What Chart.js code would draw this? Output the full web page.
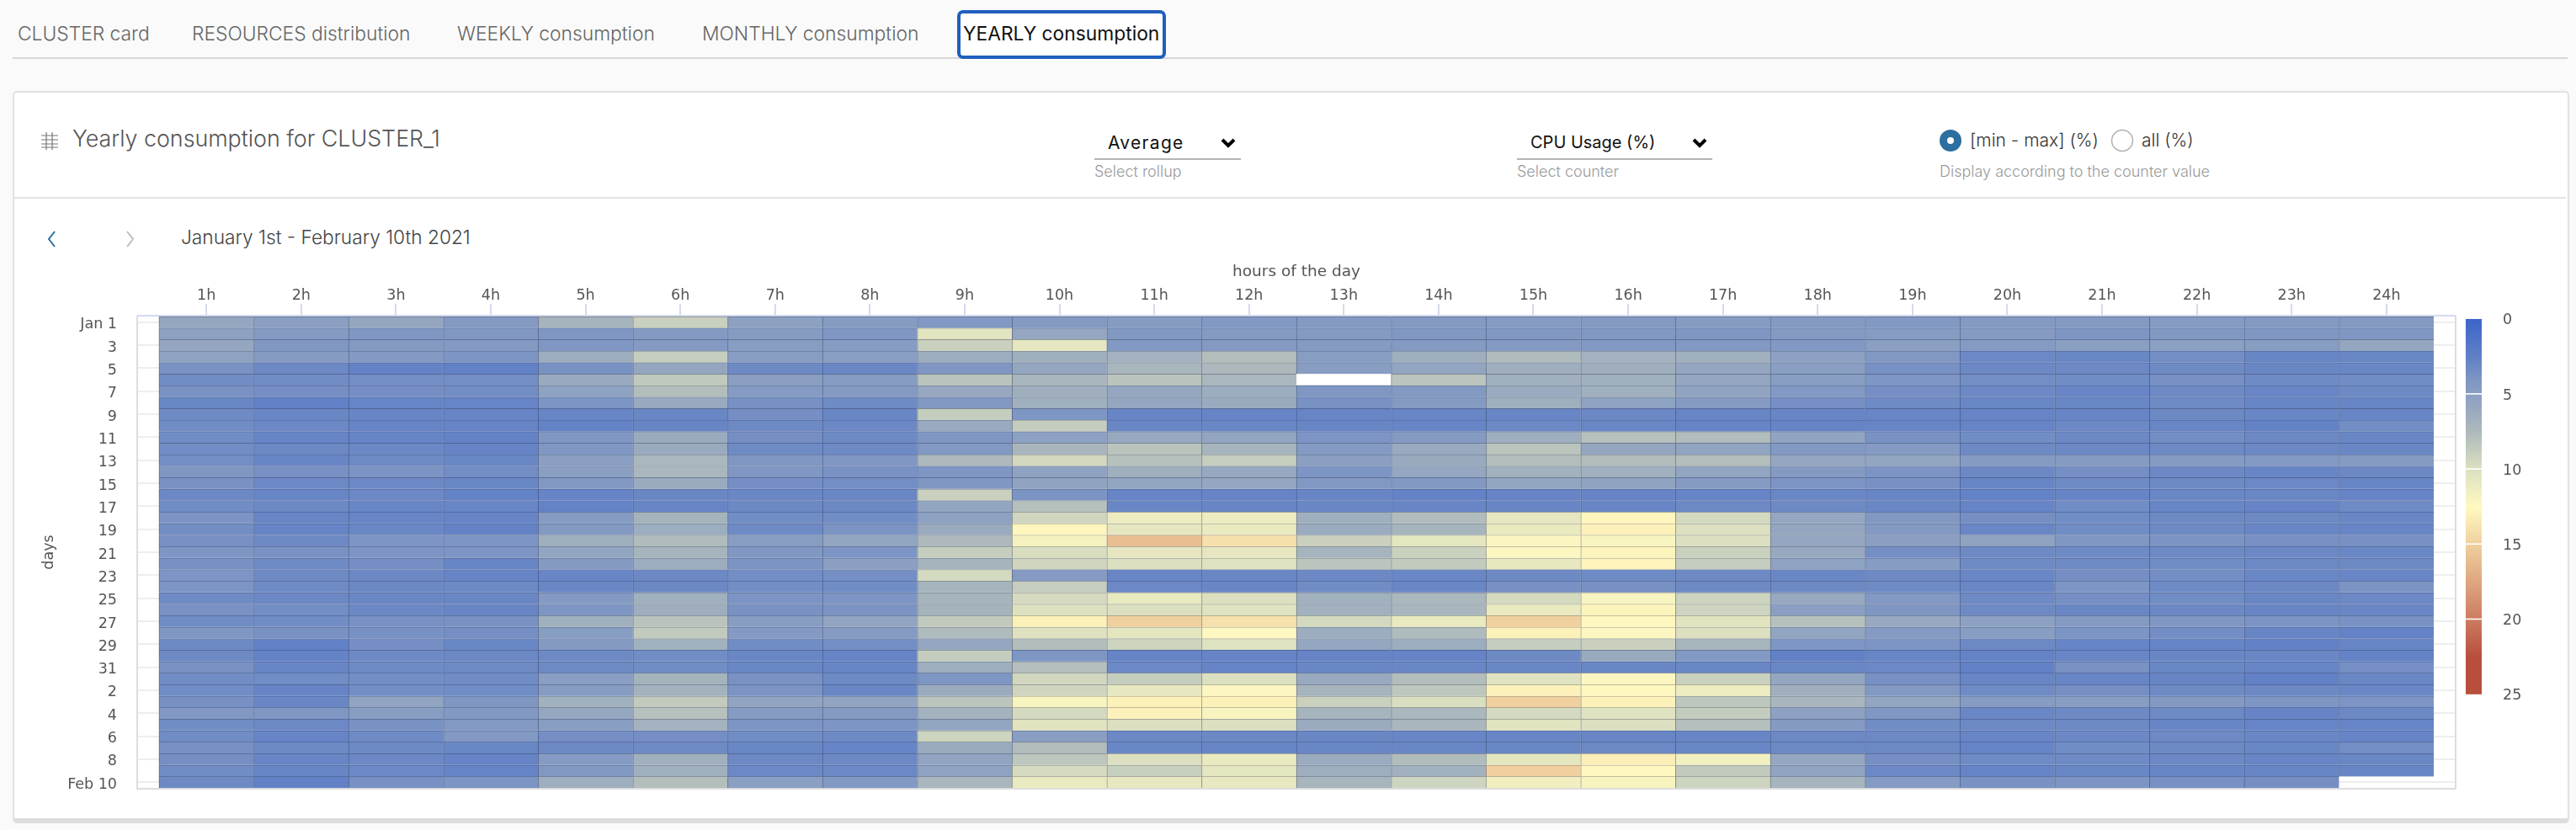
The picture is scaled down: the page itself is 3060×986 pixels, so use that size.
<!DOCTYPE html>
<html><head><meta charset="utf-8">
<style>
html,body{margin:0;padding:0;background:#fafafa;width:3060px;height:986px;overflow:hidden;font-family:Inter,sans-serif}
.t{position:absolute;white-space:nowrap;line-height:1}
#tabline{position:absolute;left:15px;top:68px;width:3035px;height:2px;background:#d6d6d6}
#active{position:absolute;left:1137px;top:12px;width:240px;height:50px;border:4px solid #1f5fbf;border-radius:7px;background:#fff}
#panel{position:absolute;left:15px;top:108px;width:3033px;height:862px;background:#fff;border:2px solid #e2e2e2;border-bottom:6px solid #ddd;border-radius:5px}
#sep{position:absolute;left:17px;top:234px;width:3031px;height:2px;background:#e2e2e2}
canvas{position:absolute;left:0;top:0}
.u{position:absolute;height:2px;background:#b4b4b4;top:188px}
.h{font-size:18px;color:#999;top:195px;font-weight:300}
.s{font-size:20px;color:#111;top:159px}
.tab{top:29px;font-size:22.8px;font-weight:300;color:#666}
svg{position:absolute}
</style></head><body>
<div id="tabline"></div><div id="active"></div>
<div class="t tab" style="left:21px">CLUSTER card</div>
<div class="t tab" style="left:228px">RESOURCES distribution</div>
<div class="t tab" style="left:543px">WEEKLY consumption</div>
<div class="t tab" style="left:834px">MONTHLY consumption</div>
<div class="t tab" style="left:1144px;font-weight:400;color:#111">YEARLY consumption</div>
<div id="panel"></div><div id="sep"></div>
<svg style="left:47px;top:155px" width="24" height="24" viewBox="0 0 24 24" stroke="#777" stroke-width="1.2" fill="none"><path d="M8 2V23M15 2V23M2 6H22M2 11H22M2 16H22M2 20H22"/></svg>
<div class="t" style="left:86px;top:151px;font-size:26.8px;font-weight:300;color:#555">Yearly consumption for CLUSTER_1</div>
<div class="t s" style="left:1316px;font-size:21px;letter-spacing:1.3px">Average</div>
<svg style="left:1449px;top:163px" width="20" height="14" stroke="#000" stroke-width="4" fill="none"><path d="M3 3L10 10L17 3"/></svg>
<div class="u" style="left:1300px;width:174px"></div>
<div class="t h" style="left:1300px">Select rollup</div>
<div class="t s" style="left:1818px">CPU Usage (%)</div>
<svg style="left:2009px;top:163px" width="20" height="14" stroke="#000" stroke-width="4" fill="none"><path d="M3 3L10 10L17 3"/></svg>
<div class="u" style="left:1802px;width:232px"></div>
<div class="t h" style="left:1802px">Select counter</div>
<svg style="left:2303px;top:153px" width="28" height="28"><circle cx="14" cy="14" r="13" fill="#2d6f9f"/><circle cx="14" cy="14" r="4" fill="#fff"/></svg>
<div class="t" style="left:2340px;top:156px;font-size:21px;font-weight:300;color:#333">[min - max] (%)</div>
<svg style="left:2507px;top:153px" width="28" height="28"><circle cx="14" cy="14" r="12.5" fill="#fff" stroke="#b0b0b0" stroke-width="1.5"/></svg>
<div class="t" style="left:2544px;top:156px;font-size:21px;font-weight:300;color:#333">all (%)</div>
<div class="t h" style="left:2304px">Display according to the counter value</div>
<svg style="left:54px;top:272px" width="16" height="24" stroke="#2d6f9f" stroke-width="2" fill="none"><path d="M11 3L4 12L11 21"/></svg>
<svg style="left:146px;top:272px" width="16" height="24" stroke="#bbb" stroke-width="2" fill="none"><path d="M5 3L12 12L5 21"/></svg>
<div class="t" style="left:215px;top:271px;font-size:22.7px;font-weight:300;color:#444">January 1st - February 10th 2021</div>
<canvas id="c" width="3060" height="986"></canvas>
<script src="https://cdn.jsdelivr.net/npm/chart.js@4"></script>
<script>
const hours=["1h","2h","3h","4h","5h","6h","7h","8h","9h","10h","11h","12h","13h","14h","15h","16h","17h","18h","19h","20h","21h","22h","23h","24h"];
const dayLabels=["Jan 1","3","5","7","9","11","13","15","17","19","21","23","25","27","29","31","2","4","6","8","Feb 10"];
const legendTicks=[0,5,10,15,20,25];
const cpu=[
[5.7,5,5.8,4.5,7,9,5.2,4.7,4.4,4.5,4.7,4.4,4.5,4.5,4.6,4.5,4.7,4.5,4.4,4.5,4.5,4.6,4.5,4.5],
[5.2,4.6,4.2,4.3,4.2,4.5,4.7,4.2,10.5,5.7,4.3,4.5,4.5,4.3,4.3,4.3,4.2,4.5,4.7,4.6,4.1,4.3,4.2,4.2],
[5.8,4.3,4.5,4.5,4.2,4.5,4.8,4.7,9,10.7,4.4,4.5,4.6,4.5,4.5,4.4,4.4,4.4,5,4.6,5,5.1,4.8,5.8],
[5.3,4.6,4.5,4,6.3,8.8,4.8,4.9,6.3,6.5,6.8,7.8,4.8,6.5,7.6,6.8,6.6,5.2,4.3,3.1,3,3.5,2.9,3],
[3.8,3.1,2.7,2.6,3.8,5.8,3.2,3,4.2,5.8,7.2,7.4,4.8,5.6,6.5,6.5,5.8,5,3.7,3.1,3.1,3.3,3,3],
[3.4,3.4,3.5,3.5,6,8.5,5,4.7,8.2,7.2,8.2,7.3,null,8.3,6.6,6.6,5.7,4.8,4.1,3.5,3.4,3.7,3.3,3.4],
[3.8,3.6,3.6,3.5,5.3,7.8,4.6,4.5,5.9,6.5,5.7,6.3,4.2,4.4,6.2,6.6,5.5,4.4,3.6,3.1,2.9,3.2,2.9,3.2],
[3,2.6,2.8,2.8,4,6,3.7,3.3,4.3,6.6,5.8,6.2,3.8,4.5,6.5,5.3,4.6,3.6,3.3,3,3,3.3,2.9,2.9],
[3.3,3,2.9,2.9,2.9,3,3.6,3,8.8,4.1,2.9,2.8,2.9,2.9,2.9,3.1,2.9,2.9,2.9,2.8,2.9,3.2,3,2.9],
[3.4,3.1,2.8,2.8,2.7,2.9,3.2,3.1,6,8.8,3,3,2.9,2.9,3.1,3,2.8,2.8,2.9,2.8,3.1,2.9,2.7,3.5],
[3.4,2.8,2.8,2.7,4.2,6.2,3.6,3.2,4.2,5.2,5.9,5.6,4,4.5,6.4,8,7.7,5.5,3.8,3.4,3.1,3.5,3.1,3],
[3.4,3.1,3.1,2.8,4.2,6.2,3.3,3.2,4.4,7.2,8.2,7,4.6,6,8.2,5.7,5.5,4.4,4.6,3.2,3.1,3.2,3.1,3],
[3.5,2.9,3.2,3,5,7.3,4.2,4.2,7.5,9.5,8,8.8,5,6.1,7.8,7.7,7.8,5.7,5.6,4.6,4.6,4.6,4.4,4.6],
[4.2,3.7,3.9,3.5,5,7.3,4.2,3.8,4.1,5.3,6.5,5.9,4,5.7,6.7,6.6,5.6,4.5,3.9,3.1,3.6,3.1,2.9,3.1],
[3.8,3.1,3.1,3,4.3,6.2,3.6,3.5,4.2,5.4,5.6,5.8,4.3,4.4,5.6,5.4,4.6,4,3.7,2.9,3.3,3.2,3.1,2.9],
[3.1,2.9,3.1,2.7,2.8,3,3,3,9,3.9,2.8,2.8,2.9,2.7,2.8,2.8,2.8,3,2.9,2.7,2.8,3,3,2.8],
[3.4,3.1,2.9,2.9,2.7,2.9,3.1,3.1,5.6,8,3,2.9,3,2.9,2.9,2.9,3.1,3.2,3,2.8,3.4,2.9,2.8,3.3],
[4,2.9,2.9,2.8,4.6,6.9,3.4,3.4,5.2,9.3,11.2,11.2,6.5,7.7,10.7,12.7,9.6,5.8,4.3,3.6,3.4,3.2,3.2,3],
[3.5,2.8,3,2.7,4.4,6.3,3.3,3.9,6.2,12.7,10.7,11,6.2,7,11,13,10,5.8,4.5,3,3.4,3.2,3,2.9],
[3.7,3.2,4,4,6.5,7.6,4.8,5.6,7.5,11.8,16,14,9,10.6,12.2,12.1,10,5.8,5,5.4,4.2,3.9,3.7,3.7],
[4.1,3.8,4,4,5.6,7,4.3,4,8.8,9.8,10.7,10.7,7,9,12.3,12.8,9,5.9,3.6,3.2,3.3,3.2,3.1,3],
[3.7,3.3,3.6,2.9,4.5,6.3,3.9,5,7,9.3,10,10.3,8.3,8.6,10.8,12.8,8.8,5.3,4.7,3.3,3.3,3.4,3.1,3.2],
[4,3.2,3.1,2.8,2.9,3.1,3.5,3.6,9.6,4.6,2.9,3,3.1,3,3.2,3.3,3.2,3,3.2,3,3.6,3.5,3,2.9],
[4,3.3,3.1,3.2,3,3.1,3.5,3.4,7,8.8,3.1,3,3.4,3,3.7,3.7,3.2,3.2,3.3,3,4,3.3,3.1,3.9],
[3.3,3.1,3,3,4.5,6.6,4,4,7,9.7,11,10,6.7,7.3,9.6,12,9.2,5.9,4.4,3.2,3.6,3.4,3,3.1],
[3.8,3.5,3.1,2.9,4.1,6.4,3.8,3.9,6.9,10.1,10,10.3,6.7,7.2,11,12.8,9.2,5,4.2,3.2,3,3.1,2.9,3],
[3.4,3.4,3.7,3.8,6.6,8.2,4.8,5.5,8.6,13,15,14,9.6,11,15,12.6,10.4,8,5.9,5.2,4.5,4.2,3.9,3.8],
[4.2,3.8,3.7,3.6,4.8,8.6,4.5,4.6,7.6,10.2,10.6,12.6,6.3,7.6,13,12.3,10,5.6,4.6,4.8,4,3.5,2.9,2.7],
[3.2,2.6,3.6,3,4.5,6.7,3.4,3.5,5.8,7.8,9.2,10.2,5.8,6.3,8.8,9,7.1,4.1,4,3.1,2.8,2.8,2.6,2.9],
[3.2,2.7,3.2,3.1,3.2,3.4,3,2.8,8.7,4.1,2.8,2.8,2.8,2.8,3.2,6.1,4.4,2.6,2.9,2.7,2.9,3,3,2.7],
[3.8,2.9,3.3,3.2,3.2,3.4,3,2.9,6.4,7.9,3.1,2.8,3,3,3,3,3,3,3.1,2.6,3.8,3,2.9,3.6],
[3.4,3.4,3.5,3.4,4.9,6.9,3.8,3.2,4.1,9.4,8.8,10,6,7.8,10.3,12.3,9,5.7,3.7,2.9,2.9,2.9,2.6,3],
[3.4,2.8,3.5,3.4,4.7,6.8,3.9,3,6.2,9.3,10.8,12.3,7,8.4,13,12.4,11.2,6.5,4.4,3.3,3.6,3.2,3.1,3],
[3.7,3,5.5,4.2,6.7,8.6,5.5,5.5,8.3,12,13,13,9,9.9,15,13,8.4,7.2,5.6,4.7,4.8,4.5,4.1,4],
[4.3,4.2,4.8,4.4,5.8,8,4.6,4.5,6.8,9.6,13,12,7,7.3,9.6,10.3,8.7,5.2,4.2,3,3.2,3.2,2.8,3.1],
[3.4,3.1,3.8,4.4,4.8,6.8,4,4,5.6,10.4,10,10,6.2,7.2,10.4,10,7.9,4.5,3.4,3.1,3.1,2.9,2.8,2.8],
[3.4,2.8,3.3,4.4,3.6,3.6,3.4,3.2,9.2,4.9,3.1,3.1,3,2.9,2.9,2.9,2.9,3.1,3.1,2.9,3.1,3.2,3,2.8],
[3.7,3.2,3.2,3,3.1,3.3,3,2.8,6.2,7.7,3,2.9,3,3,3,3.1,3,3.1,3.1,2.8,3.4,3.2,3,3.5],
[3.6,2.9,3.1,2.8,4.6,6.6,3.1,3.1,5.5,8.4,10,11,6.2,7.7,10.6,13.2,11.6,5.7,3.6,3.3,3.3,3.1,2.9,3],
[3.4,2.9,3.1,2.8,4.3,6.6,3.1,3.1,5.3,9.7,8.9,10.6,6.4,6.7,15,12.4,8.6,5.5,3.1,2.8,3,2.9,2.9,2.9],
[3.2,2.6,3.7,4,6.4,7.8,5,4.4,7.2,11,10.8,10.8,7.1,9.2,11.5,12,9.2,7,4.6,3.8,4,3.7,3.6,null]
];
const scaleStops=[[0,"#3b64c8"],[2.5,"#6080c6"],[4,"#7d95c4"],[5,"#8a9fc2"],[7.5,"#adb9bc"],[10,"#dce0c0"],[12.5,"#fff9c0"],[15,"#f0d09e"],[20,"#cc7c60"],[22.5,"#b84f3d"],[25,"#b84f3d"]];
const hex=h=>[1,3,5].map(i=>parseInt(h.substr(i,2),16));
function rgb(v){
  for(let i=1;i<scaleStops.length;i++){
    if(v<=scaleStops[i][0]){
      const [a,ca]=scaleStops[i-1],[b,cb]=scaleStops[i],t=(v-a)/(b-a),A=hex(ca),B=hex(cb);
      return A.map((x,k)=>x+(B[k]-x)*t);
    }
  }
  return hex(scaleStops[scaleStops.length-1][1]);
}
const css=c=>`rgb(${c.map(Math.round).join(",")})`;
const fill=v=>css(rgb(v));
const edge=v=>css(rgb(v).map((x,k)=>x*0.55+[42,50,78][k]*0.45));
const datasets=cpu.map((row,d)=>({
  label:"day "+(d+1),
  data:row.map((v,h)=>v===null?null:{x:h,y:[d-0.5,d+0.5],v}).filter(Boolean),
  backgroundColor:c=>c.raw?fill(c.raw.v):"#fff",
  borderColor:c=>c.raw?edge(c.raw.v):"#fff",
  borderWidth:{top:1,left:1,right:0,bottom:0},
  borderSkipped:false,
  grouped:false,barPercentage:1,categoryPercentage:1
}));
const labelFont={family:"DejaVu Sans",size:17.5};
const noPad=s=>{s.paddingTop=s.paddingBottom=s.paddingLeft=s.paddingRight=0};
const frameAndLegend={id:"frameAndLegend",
  beforeDatasetsDraw(ch){
    const a=ch.chartArea,g=ch.ctx;g.save();g.lineWidth=2;
    g.strokeStyle="#dddddd";g.beginPath();g.moveTo(a.left,a.top);g.lineTo(a.left,a.bottom);g.lineTo(a.right,a.bottom);g.lineTo(a.right,a.top);g.stroke();
    g.strokeStyle="#d5daee";g.beginPath();g.moveTo(a.left,a.top);g.lineTo(a.right,a.top);g.stroke();g.restore();
  },
  afterDraw(ch){
    const s=ch.scales.legend,g=ch.ctx,x0=2929,w=19,y0=s.getPixelForValue(0),y1=s.getPixelForValue(25);
    const gr=g.createLinearGradient(0,y0,0,y1);
    scaleStops.forEach(([v,c])=>gr.addColorStop(v/25,c));
    g.save();g.fillStyle=gr;g.fillRect(x0,y0,w,y1-y0);
    g.fillStyle="#fff";
    [5,10,15,20].forEach(v=>g.fillRect(x0,s.getPixelForValue(v)-1,w,1.6));
    g.restore();
  }};
new Chart(document.getElementById("c"),{
  type:"bar",
  data:{datasets},
  plugins:[frameAndLegend],
  options:{
    responsive:false,animation:false,devicePixelRatio:1,
    layout:{padding:{left:48,top:312,right:20,bottom:49}},
    plugins:{legend:{display:false},tooltip:{enabled:false}},
    scales:{
      x:{type:"linear",position:"top",offset:false,min:-0.73,max:23.73,
        afterBuildTicks:s=>{s.ticks=hours.map((_,i)=>({value:i}))},
        afterFit:s=>{s.height=63;noPad(s)},
        title:{display:true,text:"hours of the day",color:"#555",font:{family:"DejaVu Sans",size:18.5},padding:0},
        grid:{offset:false,drawOnChartArea:false,color:"#d5daee",lineWidth:2,tickLength:14},
        border:{display:false},
        ticks:{autoSkip:false,maxRotation:0,color:"#555",font:labelFont,padding:-1,callback:v=>hours[v]}
      },
      y:{type:"linear",reverse:true,min:-0.57,max:40.57,beginAtZero:false,
        afterBuildTicks:s=>{s.ticks=dayLabels.map((_,i)=>({value:i*2}))},
        afterFit:s=>{s.width=115;noPad(s)},
        title:{display:true,text:"days",color:"#555",font:labelFont,padding:0},
        grid:{color:"#eeeeee",lineWidth:2,drawTicks:false},
        border:{display:false},
        ticks:{autoSkip:false,color:"#555",font:labelFont,padding:24,labelOffset:3,callback:v=>dayLabels[v/2]}
      },
      legend:{type:"linear",position:"right",reverse:true,min:-0.22,max:31.29,
        afterBuildTicks:s=>{s.ticks=legendTicks.map(value=>({value}))},
        afterFit:s=>{s.width=123;noPad(s)},
        grid:{display:false,drawTicks:false},border:{display:false},
        ticks:{autoSkip:false,color:"#555",font:labelFont,padding:56,labelOffset:2}
      }
    }
  }
});
</script>
</body></html>
